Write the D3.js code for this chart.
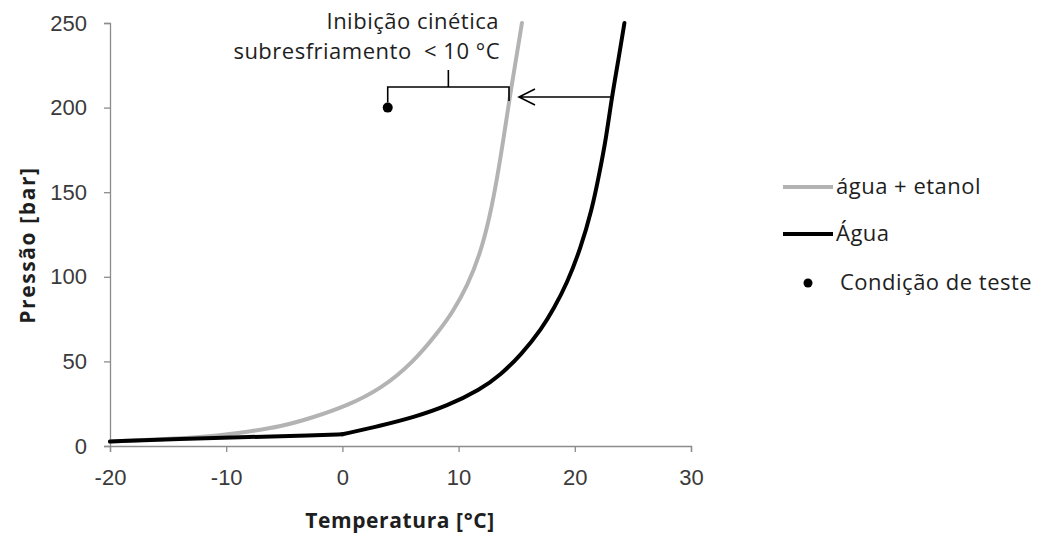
<!DOCTYPE html>
<html>
<head>
<meta charset="utf-8">
<script src="https://cdn.jsdelivr.net/npm/d3@7"></script>
<style>
  body { margin: 0; background: #fff; }
  svg { font-family: "Open Sans", "Liberation Sans", sans-serif; }
</style>
</head>
<body>
<svg id="chart" width="1039" height="538"></svg>
<script>
// Hydrate equilibrium curves: temperature (°C) vs pressure (bar)
const aguaEtanolT = [-20, -14, -11, -8.2, -5.3, -2.5, 0.4, 3.3, 6.1, 8.43, 9.47, 10.76, 11.88, 12.7, 13.3, 13.86, 14.37, 14.93, 15.45];
const aguaEtanolP = [2.6, 4.5, 5.9, 8.4, 11.4, 16.9, 23.8, 33.7, 49.4, 69, 79, 94.6, 114, 136, 157.6, 181.3, 204.9, 228, 250];

const aguaT = [-20, -14, -8, -2.5, 0, 3.3, 6.1, 9.0, 11.9, 13.6, 15.4, 17.19, 18.18, 19.34, 20.48, 21.47, 22.12, 22.68, 23.19, 23.75, 24.27];
const aguaP = [2.6, 4.3, 5.3, 6.2, 6.9, 12, 16.9, 23.6, 33.5, 42, 54, 69.7, 81, 96.3, 116.4, 139.5, 161.3, 181.3, 206.3, 228, 250];

// Test condition point
const testeT = [3.9];
const testeP = [200];

const xTicks = [-20, -10, 0, 10, 20, 30];
const yTicks = [0, 50, 100, 150, 200, 250];

const seriesNames = ["água + etanol", "Água", "Condição de teste"];

const svg = d3.select("#chart");
const plotLeft = 110, plotRight = 691, plotTop = 23, plotBottom = 446;

const x = d3.scaleLinear().domain([-20, 30]).range([plotLeft, plotRight]);
const y = d3.scaleLinear().domain([0, 250]).range([plotBottom, plotTop]);

const axisColor = "#8c8c8c";
const textColor = "#3a3a3a";

// X axis
const gx = svg.append("g").attr("transform", `translate(0,${plotBottom})`)
  .call(d3.axisBottom(x).tickValues(xTicks).tickSize(6).tickPadding(17).tickFormat(d => String(d)));
gx.select(".domain").attr("stroke", axisColor).attr("stroke-width", 1.3);
gx.selectAll(".tick line").attr("stroke", axisColor).attr("stroke-width", 1.3);
gx.selectAll(".tick text").attr("fill", textColor).style("font-size", "22px");

// Y axis
const gy = svg.append("g").attr("transform", `translate(${plotLeft},0)`)
  .call(d3.axisLeft(y).tickValues(yTicks).tickSize(6).tickPadding(17).tickFormat(d => String(d)));
gy.select(".domain").attr("stroke", axisColor).attr("stroke-width", 1.3);
gy.selectAll(".tick line").attr("stroke", axisColor).attr("stroke-width", 1.3);
gy.selectAll(".tick text").attr("fill", textColor).style("font-size", "22px");

// Axis titles
svg.append("text")
  .attr("x", 400).attr("y", 528)
  .attr("text-anchor", "middle")
  .attr("fill", "#1e1e1e")
  .style("font-size", "21px").style("font-weight", "bold").style("letter-spacing", "0.6px")
  .text("Temperatura [°C]");

svg.append("text")
  .attr("transform", "translate(35,245) rotate(-90)")
  .attr("text-anchor", "middle")
  .attr("fill", "#1e1e1e")
  .style("font-size", "21px").style("font-weight", "bold").style("letter-spacing", "1.6px")
  .text("Pressão [bar]");

// Curves (smoothed B-spline through the readings)
const line = d3.line()
  .x(d => x(d[0])).y(d => y(d[1]))
  .curve(d3.curveBasis);

const etanolData = d3.zip(aguaEtanolT, aguaEtanolP);
const aguaData = d3.zip(aguaT, aguaP);

svg.append("path")
  .datum(etanolData)
  .attr("d", line)
  .attr("fill", "none")
  .attr("stroke", "#b3b3b3")
  .attr("stroke-width", 4)
  .attr("stroke-linecap", "round");

// Water curve: the ice branch (T ≤ 0) and the liquid branch (T ≥ 0) meet at a corner
const aguaGelo = aguaData.filter(d => d[0] <= 0);
const aguaLiquida = aguaData.filter(d => d[0] >= 0);
svg.selectAll("path.agua")
  .data([aguaGelo, aguaLiquida])
  .join("path")
  .attr("class", "agua")
  .attr("d", line)
  .attr("fill", "none")
  .attr("stroke", "#000")
  .attr("stroke-width", 4)
  .attr("stroke-linecap", "round");

// Test condition marker
svg.selectAll("circle.teste")
  .data(d3.zip(testeT, testeP))
  .join("circle")
  .attr("class", "teste")
  .attr("cx", d => x(d[0])).attr("cy", d => y(d[1]))
  .attr("r", 5).attr("fill", "#000");

// Annotation: bracket spanning test point to the ethanol curve at the same pressure
const bracketY = 87;
const bx0 = x(testeT[0]);
const bx1 = 509;
const bmid = (bx0 + bx1) / 2;
svg.append("path")
  .attr("d", `M${bx0},${y(testeP[0]) - 5} V${bracketY} H${bx1} V${bracketY + 14} M${bmid},${bracketY} V70`)
  .attr("fill", "none").attr("stroke", "#000").attr("stroke-width", 1.6);

// Arrow from water curve towards ethanol curve
const arrowY = 97;
const ax0 = 611, ax1 = 519;
svg.append("path")
  .attr("d", `M${ax0},${arrowY} H${ax1} M${ax1 + 16},${arrowY - 8} L${ax1},${arrowY} L${ax1 + 16},${arrowY + 8}`)
  .attr("fill", "none").attr("stroke", "#000").attr("stroke-width", 1.6);

const noteStyle = sel => sel
  .attr("text-anchor", "end").attr("fill", "#1e1e1e")
  .style("font-size", "22px").style("letter-spacing", "0.5px");

svg.append("text").attr("x", 499).attr("y", 29).call(noteStyle)
  .text("Inibição cinética");
svg.append("text").attr("x", 500).attr("y", 59).call(noteStyle)
  .style("white-space", "pre")
  .text("subresfriamento  < 10 °C");

// Legend
const legend = svg.append("g");
const legY = [187, 234, 283];
legend.append("line").attr("x1", 783).attr("x2", 833).attr("y1", legY[0]).attr("y2", legY[0])
  .attr("stroke", "#b3b3b3").attr("stroke-width", 4);
legend.append("line").attr("x1", 783).attr("x2", 833).attr("y1", legY[1]).attr("y2", legY[1])
  .attr("stroke", "#000").attr("stroke-width", 4);
legend.append("circle").attr("cx", 808).attr("cy", legY[2]).attr("r", 4.5).attr("fill", "#000");

legend.selectAll("text")
  .data(seriesNames)
  .join("text")
  .attr("x", (d, i) => i === 2 ? 840 : 836)
  .attr("y", (d, i) => legY[i] + 7)
  .attr("fill", "#1e1e1e")
  .style("font-size", "22px").style("letter-spacing", "0.5px")
  .text(d => d);
</script>
</body>
</html>
